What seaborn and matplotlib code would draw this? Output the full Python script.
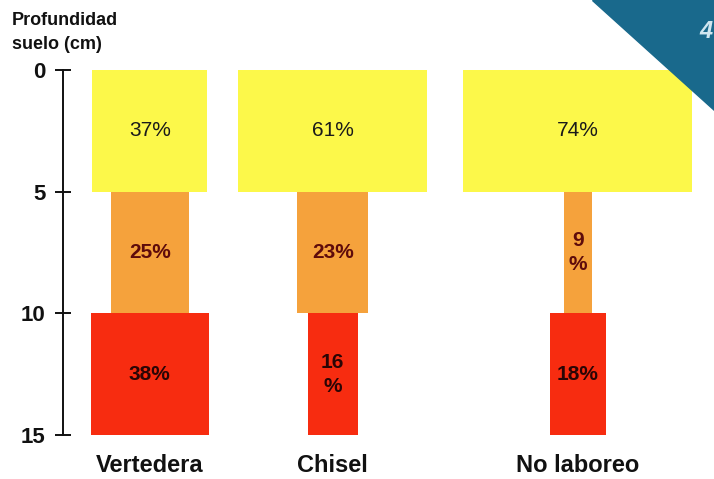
import matplotlib
matplotlib.use("Agg")
import matplotlib.pyplot as plt
from matplotlib.patches import Polygon
import seaborn as sns

# ---- data ----
categories = ["Vertedera", "Chisel", "No laboreo"]
layer_0_5 = [37, 61, 74]     # % in 0-5 cm
layer_5_10 = [25, 23, 9]     # % in 5-10 cm
layer_10_15 = [38, 16, 18]   # % in 10-15 cm
depth_edges = [0, 5, 10, 15]
yticks = [0, 5, 10, 15]
ylabel = "Profundidad\nsuelo (cm)"

layers = [layer_0_5, layer_5_10, layer_10_15]
layer_colors = ["#fcf84a", "#f5a23c", "#f72c10"]
text_colors = ["#1a1a1a", "#5e0b0b", "#2a0505"]
text_weights = ["normal", "bold", "bold"]

sns.set_theme(style="white")
plt.rcParams["font.family"] = ["Liberation Sans", "DejaVu Sans"]

fig = plt.figure(figsize=(7.14, 4.79), dpi=100)
ax = fig.add_axes([63 / 714, 44 / 479, 651 / 714, 365 / 479])

centers = [28, 87, 166]

for li, vals in enumerate(layers):
    bottom = depth_edges[li]
    h = depth_edges[li + 1] - depth_edges[li]
    ax.bar(centers, [h] * len(vals), width=vals, bottom=bottom,
           color=layer_colors[li], edgecolor="none", align="center")
    for c, v in zip(centers, vals):
        lab = f"{v}%" if v > 16 else f"{v}\n%"
        ax.text(c, bottom + h / 2, lab, ha="center", va="center",
                fontsize=15, color=text_colors[li], fontweight=text_weights[li],
                linespacing=1.35)

ax.set_xlim(0, 210)
ax.set_ylim(15, 0)
ax.set_yticks(yticks)
ax.set_yticklabels([str(t) for t in yticks], fontsize=16, fontweight="bold")
ax.set_xticks(centers)
ax.set_xticklabels(categories, fontsize=17, fontweight="bold", color="#111111")
ax.tick_params(axis="y", direction="inout", length=11, width=1.4, pad=7,
               colors="#111111", left=True)
ax.tick_params(axis="x", length=0, pad=14)

sns.despine(ax=ax, left=False, bottom=True, top=True, right=True)
ax.spines["left"].set_color("#111111")
ax.spines["left"].set_linewidth(1.4)
ax.set_facecolor("white")

fig.text(12 / 714, 1 - 12 / 479, ylabel, ha="left", va="top", fontsize=13,
         fontweight="bold", color="#111111", linespacing=1.55)

# corner decoration
tri = Polygon([[592 / 714, 1.0], [1.0, 1.0], [1.0, 1 - 110 / 479]],
              closed=True, transform=fig.transFigure, color="#19698c",
              zorder=10)
fig.patches.append(tri)
fig.text(699 / 714, 1 - 32 / 479, "4", ha="left", va="center", fontsize=17,
         fontweight="bold", style="italic", color="#cfe6f0", zorder=11)

fig.savefig("out.png", dpi=100)
